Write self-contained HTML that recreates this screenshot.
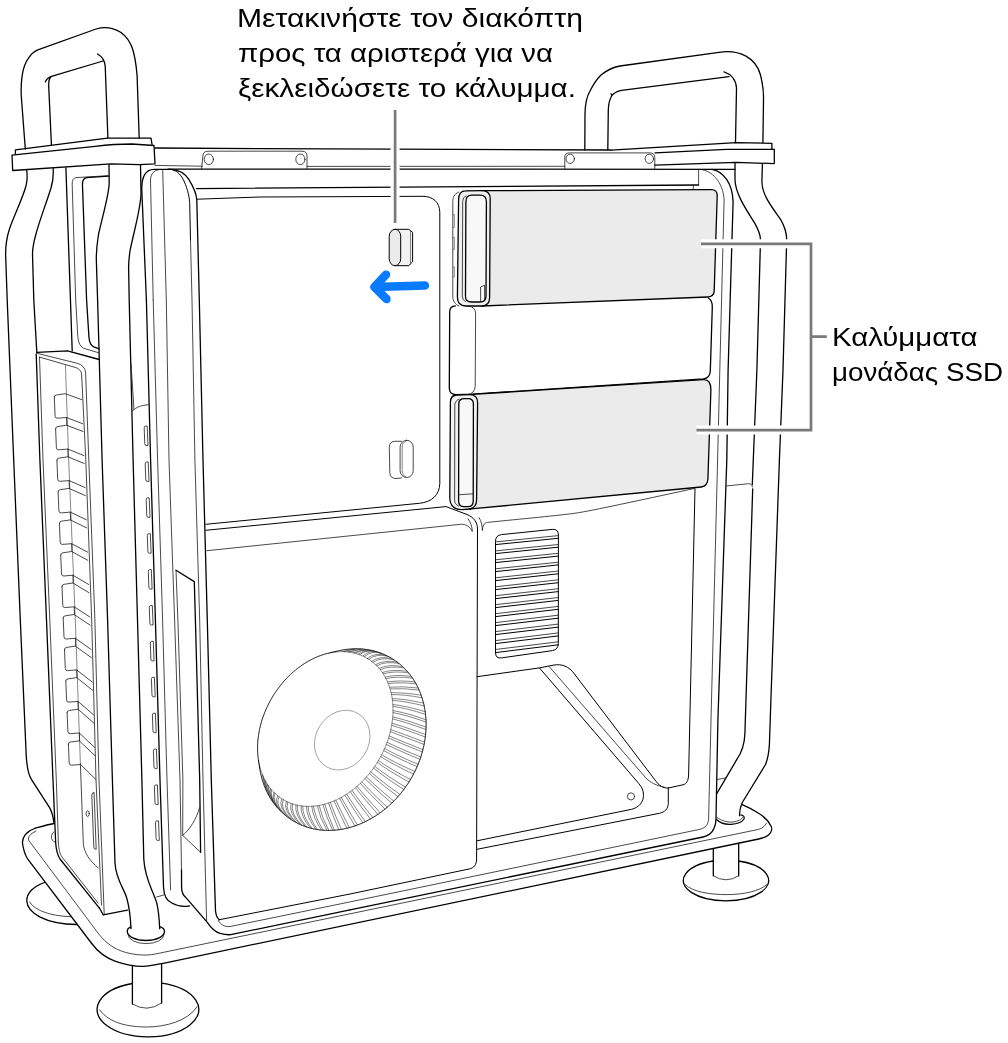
<!DOCTYPE html>
<html><head><meta charset="utf-8"><title>Mac Pro SSD covers</title>
<style>
html,body{margin:0;padding:0;background:#fff;}
body{width:1008px;height:1043px;overflow:hidden;position:relative;font-family:"Liberation Sans",sans-serif;}
svg{position:absolute;left:0;top:0;will-change:transform;}
.k{stroke:#000;stroke-width:1.3;fill:none;stroke-linecap:round;stroke-linejoin:round;}
.m{stroke:#000;stroke-width:1.0;fill:none;stroke-linecap:round;stroke-linejoin:round;}
.n{stroke:#1a1a1a;stroke-width:0.8;fill:none;stroke-linecap:round;stroke-linejoin:round;}
.f{stroke:#222;stroke-width:0.55;fill:none;stroke-linecap:round;}
.g{stroke:#555;stroke-width:0.7;fill:none;stroke-linecap:round;stroke-linejoin:round;}
text{font-family:"Liberation Sans",sans-serif;font-size:26.4px;fill:#000;}
</style></head><body>
<svg width="1008" height="1043" viewBox="0 0 1008 1043">
<path class="k" d="M25.3,149 L21.2,95 C20.8,80 23,66 28,58.9 C31,54 34,51.5 37.8,49.9 L96.1,29 C104,26.5 113,27.5 121.1,32.5 C127,37 130,42 132.2,47.8 C135,56 136.3,66 137.1,75.6 L139.2,138" />
<path class="k" d="M51.4,144.5 L48.7,86 C48.5,81 49.3,78 51.5,76.3 L103,61 M45.4,81.8 C46.5,79 48.5,77.2 51.5,76.3 M97.5,54 C102,56.5 104.8,61 105.2,66 L107.9,137.8" />
<path class="k" d="M15.4,153.8 L15.4,149.8 L107.5,138.2 L151,138.2 L152,144.3" />
<path class="k" d="M12,155.2 L95,146.3 Q115,144 131.7,144 L154,145.5 L155,163.8 L139.7,164.6 L111,163.8 L12.7,170.5 Z" />
<path class="k" d="M26.7,170 C27.5,176 27.5,180 26,186 C22,200 13,218 9.5,229 C6.5,238 5.6,247 5.6,254 L7.2,300 L13.7,460 L20.3,620 L26.2,755 C27,770 29,776 31.7,779.8 L49.6,807.6 C52,812 53.5,818 54,823.5" />
<path class="k" d="M53.2,168.6 C53.5,175 53.3,181 51,188 C46,204 39,222 35.7,235 C33.5,243 32.5,250 32.5,254 L33.8,300 L36.8,352.4" />
<path class="k" d="M65.9,167.8 L72.2,350.8" />
<path class="n" d="M108,175.7 L76,177.6 Q72,178 72.2,184.4 L75.7,300 L77.8,336.5 Q78.5,346 84,348.4 L98.4,352.7" />
<path class="k" d="M108.4,176.2 L86.5,177.6 Q82,178.5 82.5,186 L86.6,300 L88.9,336.5 Q89.5,345 93.7,346.8 L99.2,348.9" />
<path class="k" d="M109,164.6 L109.2,183 C109,195 102,218 98.4,235 C97,244 96.3,252 96.3,259 L97.6,300 L102.1,460 L107.6,620 L112.4,780 L115,863 C116,880 124,888 127,899 C129.5,908 130.5,918 131,928.7" />
<path class="k" d="M140.5,164.6 L141,194 C140.5,210 133,235 130,251 C129,258 128.6,263 128.6,267 L129.2,300 L133.1,460 L137.5,620 L141.9,780 L143.8,859.2 C145,880 153,890 156.7,902.9 C158.5,910 159.3,920 159.7,928.7" />
<path class="k" d="M127.3,931.5 A18.6,9 0 0 0 164.5,931.5 M127.3,931.5 C127.2,929.5 128.5,927.8 131,926.9 M164.5,931.5 C164.5,929.3 163,927.5 159.7,926.6" />
<path class="n" d="M128,934.8 A18,8.8 0 0 0 164,934.8" />
<path class="k" d="M36.8,352.4 L67.5,350.8 L99.2,359.5" />
<path class="k" d="M36.2,354 L39.9,460 L46.5,620 L53,780 L55.7,843 C56.2,851 57.5,855 60,859 L99.2,907.8" />
<path class="n" d="M39.5,357.1 L43,460 L49.8,620 L56.3,780 L58.4,843 C58.8,850 60,854 62,857 L98,903" />
<path class="n" d="M39.5,357.1 L75.2,367.4 Q80.8,369 81.6,374 L85.8,460 L91.7,620 L96,780 L101.5,905" />
<path class="n" d="M37.1,353.3 L77.6,363.4 Q84.8,365.5 85.6,372.5 L88.8,460 L94.9,620 L99,780 L104.2,913.8" />
<path class="g" d="M65.4,364.3 L68.7,460 L75.3,620 L80.4,764" />
<path class="k" d="M103.2,914.8 L127.5,910.2" />
<path class="k" d="M99.2,907.8 L103.2,914.8" />
<path class="n" d="M54.3,397.2 Q54.0,395.2 56.5,395.0 L65.2,393.7 L81.9,399.7 M54.3,397.2 L55.1,416.2 Q55.3,418.5 57.5,418.2 L66.5,417.5 L82.8,423.8 M66.5,417.5 L66.8,425.2" />
<path class="n" d="M55.6,428.8 Q55.3,426.8 57.8,426.6 L66.5,425.2 L83.1,431.5 M55.6,428.8 L56.4,447.8 Q56.6,450.1 58.8,449.8 L67.8,449.1 L84.0,455.6 M67.8,449.1 L68.1,456.8" />
<path class="n" d="M56.9,460.3 Q56.6,458.3 59.1,458.1 L67.8,456.8 L84.3,463.5 M56.9,460.3 L57.7,479.3 Q57.9,481.6 60.1,481.3 L69.1,480.6 L85.2,487.6 M69.1,480.6 L69.4,488.3" />
<path class="n" d="M58.1,491.9 Q57.8,489.9 60.3,489.7 L69.0,488.4 L85.5,495.7 M58.1,491.9 L58.9,510.9 Q59.1,513.1 61.3,512.9 L70.3,512.1 L86.4,519.8 M70.3,512.1 L70.6,519.9" />
<path class="n" d="M59.4,523.4 Q59.1,521.4 61.6,521.2 L70.3,519.9 L86.7,527.9 M59.4,523.4 L60.2,542.4 Q60.4,544.7 62.6,544.4 L71.6,543.7 L87.6,552.1 M71.6,543.7 L71.9,551.4" />
<path class="n" d="M60.7,555.0 Q60.4,553.0 62.9,552.8 L71.6,551.5 L87.8,560.3 M60.7,555.0 L61.5,574.0 Q61.7,576.2 63.9,576.0 L72.9,575.2 L88.7,584.5 M72.9,575.2 L73.2,583.0" />
<path class="n" d="M62.0,586.5 Q61.7,584.5 64.2,584.3 L72.9,583.0 L89.0,592.7 M62.0,586.5 L62.8,605.5 Q63.0,607.8 65.2,607.5 L74.2,606.8 L89.9,617.0 M74.2,606.8 L74.5,614.5" />
<path class="n" d="M63.2,618.0 Q62.9,616.0 65.4,615.8 L74.1,614.5 L90.2,625.2 M63.2,618.0 L64.0,637.0 Q64.2,639.3 66.4,639.0 L75.4,638.3 L91.1,649.5 M75.4,638.3 L75.7,646.0" />
<path class="n" d="M64.5,649.6 Q64.2,647.6 66.7,647.4 L75.4,646.1 L91.4,657.7 M64.5,649.6 L65.3,668.6 Q65.5,670.9 67.7,670.6 L76.7,669.9 L92.3,682.1 M76.7,669.9 L77.0,677.6" />
<path class="n" d="M65.8,681.1 Q65.5,679.1 68.0,678.9 L76.7,677.6 L92.6,690.3 M65.8,681.1 L66.6,700.1 Q66.8,702.4 69.0,702.1 L78.0,701.4 L93.5,714.8 M78.0,701.4 L78.3,709.1" />
<path class="n" d="M67.1,712.7 Q66.8,710.7 69.3,710.5 L78.0,709.2 L93.8,723.0 M67.1,712.7 L67.9,731.7 Q68.1,734.0 70.3,733.7 L79.3,733.0 L94.7,747.5 M79.3,733.0 L79.6,740.7" />
<path class="n" d="M68.4,744.2 Q68.1,742.2 70.6,742.0 L79.3,740.8 L95.0,755.7 M68.4,744.2 L69.2,763.2 Q69.4,765.5 71.6,765.2 L80.6,764.5 L95.9,779.5" />
<path class="n" d="M80.4,764 L83.3,843.3 C84,853 90,861 98.2,868" />
<path class="n" d="M93.9,792.7 Q91.7,792.7 91.8,795 L93.8,847 Q94,849.5 96.2,849.3 L94.2,795 Q94.1,792.7 93.9,792.7 Z" />
<ellipse cx="87.7" cy="813.6" rx="1.6" ry="2.8" class="n"/>
<path class="k" d="M146.4,300 L141.8,190 C141.5,176 146,169.6 154,169.4 L171.4,169.4 C181,170 186,175 189,179.7 C194,188 196.5,195 196.8,200 L199.3,300 L203,460 L207.3,620 L211.3,780 L215.5,910.8 C216,916 217.5,918.5 219.4,919.7" />
<path class="k" d="M146.4,300 L150.6,460 L155.4,620 L160,780 L163.5,887 C164,897 168,901.5 171.8,903 C177,906 184,907 189.7,905.8" />
<path class="n" d="M153.2,300 L150.5,180 Q150.5,171 158.7,169.6 M153.2,300 L157.6,460 L162.6,620 L167,780 L170.6,890" />
<path class="n" d="M162.7,170 L166.3,300 L169,460 L174.6,620 L180,780 L181.5,870" />
<path class="m" d="M173,170 C178,171 181.5,176 184,181 C188,190 189.5,198 189.7,203.5 L190.5,240" />
<path class="n" d="M190.5,240 L192,300 L194.9,460 L199.7,620 L203,780 L206.6,920.9" />
<path class="k" d="M181.5,870 L181.6,887.9 C181.8,893 183,895.5 186,897.7 L207.5,922.7 C211,928 215,932 220,933.4 C224,934.5 227,935 230.7,934.7 L350,909.8" />
<path class="k" d="M176,570.2 L194.3,581.6 L195.4,620 L199.7,780 L200.6,852.3" />
<path class="n" d="M176,570.2 L177.9,620 L182.9,780 L182.7,835.4" />
<path class="n" d="M199.6,807.6 C196,820 190,829 182.7,835.4 L200.6,852.3" />
<path class="n" d="M144.2,427.5 Q144.2,426.0 145.7,426.0 L147.2,426.0 L148.0,445.5 L146.0,445.5 Q144.9,445.5 144.8,444.0 Z" />
<path class="n" d="M145.2,463.4 Q145.2,461.9 146.7,461.9 L148.2,461.9 L149.0,481.4 L147.0,481.4 Q145.9,481.4 145.8,479.9 Z" />
<path class="n" d="M146.2,499.3 Q146.2,497.8 147.7,497.8 L149.2,497.8 L150.0,517.3 L148.0,517.3 Q146.9,517.3 146.8,515.8 Z" />
<path class="n" d="M147.3,535.2 Q147.3,533.7 148.8,533.7 L150.3,533.7 L151.1,553.2 L149.1,553.2 Q148.0,553.2 147.9,551.7 Z" />
<path class="n" d="M148.3,571.1 Q148.3,569.6 149.8,569.6 L151.3,569.6 L152.1,589.1 L150.1,589.1 Q149.0,589.1 148.9,587.6 Z" />
<path class="n" d="M149.3,607.0 Q149.3,605.5 150.8,605.5 L152.3,605.5 L153.1,625.0 L151.1,625.0 Q150.0,625.0 149.9,623.5 Z" />
<path class="n" d="M150.3,642.9 Q150.3,641.4 151.8,641.4 L153.3,641.4 L154.1,660.9 L152.1,660.9 Q151.0,660.9 150.9,659.4 Z" />
<path class="n" d="M151.4,678.8 Q151.4,677.3 152.9,677.3 L154.4,677.3 L155.2,696.8 L153.2,696.8 Q152.1,696.8 152.0,695.3 Z" />
<path class="n" d="M152.4,714.7 Q152.4,713.2 153.9,713.2 L155.4,713.2 L156.2,732.7 L154.2,732.7 Q153.1,732.7 153.0,731.2 Z" />
<path class="n" d="M153.4,750.6 Q153.4,749.1 154.9,749.1 L156.4,749.1 L157.2,768.6 L155.2,768.6 Q154.1,768.6 154.0,767.1 Z" />
<path class="n" d="M154.4,786.5 Q154.4,785.0 155.9,785.0 L157.4,785.0 L158.2,804.5 L156.2,804.5 Q155.1,804.5 155.0,803.0 Z" />
<path class="n" d="M155.5,822.4 Q155.5,820.9 157.0,820.9 L158.5,820.9 L159.3,840.4 L157.3,840.4 Q156.2,840.4 156.1,838.9 Z" />
<path class="n" d="M131,363.5 L134,409.5 M132.5,411 C136,407 142,405 148.4,404.8" />
<path class="k" d="M44.6,882.5 C34,886 26.5,893 26.8,901 C27.5,913 45,924 77,924.5" />
<path class="n" d="M29.8,901.9 C33,909 48,916 71,916.7" />
<path class="k" d="M54,823.5 C46,825 40,827 34.7,828.5 C27,831 21.5,837 22.6,844 C23.5,850 25,855 27.8,859.2 L91.7,943.5 C98,952 106,958 115.6,961.3 C125,964.5 135,966.5 143.3,966.3 C150,966.2 157,964.5 163.2,963.3 L758.6,839 C763,838 767,836.5 768.5,835 C772,832 772.5,828 770.5,825.2 C768,820 763,816 758.6,813.3 C753,809.5 747,806.5 741.7,804.3" />
<path class="n" d="M36,831 C30,834 27.5,837 28.8,840.5 L99.2,934.6 C106,943 114,949 125.5,952.4 C133,954.5 141,955.3 147.3,955 C153,954.7 158,953.5 163.2,952.4 L758.6,829.4 C762,828.5 765,826 766.5,823.2" />
<path class="n" d="M156.7,897 L163.7,895" />
<path class="n" d="M53.8,832 C50.3,833.5 50.5,841 54.6,842" />
<path class="k" d="M132.4,966 L132.4,1004 M161.6,963.6 L161.6,1003" />
<path class="n" d="M132.4,1004 Q147,1013 161.6,1003" />
<path class="k" d="M161.6,983.2 A50.9,27.3 0 1 1 132.4,983.5" />
<path class="n" d="M99.7,1010 C110,1024 130,1027 147.3,1027 C165,1027 188,1021 196.9,1007" />
<path class="k" d="M713.3,849 L713.3,875.8 M738.7,844 L738.7,875.8" />
<path class="n" d="M713.3,875.8 Q726,884 738.7,875.8" />
<path class="k" d="M738.7,861 A42.7,20.4 0 1 1 713.3,861" />
<path class="n" d="M685.2,884.7 C693,892 710,894.6 726.8,894.6 C744,894.6 760,891 766.5,884.7" />
<path class="k" d="M716.5,819.5 C720,823 726,824.6 731,824.3 C737,824 742,822 744,819 C744.8,817 743.5,815.5 741,814.8" />
<path class="n" d="M716.8,817.3 C722,821.3 728,822.4 733,822 C738,821.3 741.5,819.5 742.5,817.5" />
<path class="k" d="M155,148 L260,148.7 L395,149.2 L611,150" />
<path class="n" d="M155,165.4 L202.4,166.2 M307,166.4 L564.8,166.3" />
<path class="k" d="M168,169.1 L735,169.3" />
<path class="n" d="M201.6,168.9 L202.9,156 Q203,151.3 208,151.2 L302,151.2 Q307,151.3 307,156 L307,168.9" />
<ellipse cx="208.8" cy="159.3" rx="4.6" ry="5.3" class="n"/><ellipse cx="300.4" cy="159.3" rx="4.6" ry="5.3" class="n"/>
<path class="n" d="M564.8,168.8 L564.8,157 Q565,152.9 569.5,152.9 L650,152.9 Q654.8,153 654.8,157.5 L654.8,168.8" />
<ellipse cx="570.2" cy="158.8" rx="4.2" ry="4.6" class="n"/><ellipse cx="649.3" cy="158.8" rx="4.2" ry="4.6" class="n"/>
<path class="k" d="M196.5,188.6 L698.6,185" />
<path class="n" d="M698.6,169.3 L698.6,184.9 M693.3,185 L693.3,189.6" />
<path class="k" d="M584.8,149.8 L585,115 C585,103 587,96 590,91 C594,83 598,78 601,75 C607,70 613,67.3 620,66 L719,52.3 C740,49.3 756,58 760.5,75 C763,85 763.7,95 763.5,100 L762.9,142.6" />
<path class="k" d="M607.8,149.8 L608.3,110 C608.6,103 610,98.5 611.9,95.5 C614,93 617,91.3 621.5,90.4 L729,76.6 M611,93.8 L611.9,95.5 M724,71.8 C731,74 736,80 736.5,88 L735.5,142.6" />
<path class="k" d="M611.2,150.2 L736.2,142.6 L771.9,143.3 L771.9,148.8" />
<path class="k" d="M655,152.8 L726.7,149.3 L774.3,149.3 L774.3,163.6 L736.2,162.4 L654.8,165.2" />
<path class="k" d="M735,163 L735,180 C735.5,195 748,212 755,223.6 C758.5,230 760.5,236 760.5,240 L756.9,370 L752.3,484.5 M752.7,488.8 L744.9,733.4 C744.5,745 742,752 736.7,759.7 L716.9,793.4" />
<path class="k" d="M762.4,164 L761.9,182 C762,195 772,207 780.7,219.6 C785,227 786.7,234 786.7,240 L783,370 L779.4,460 L770.9,700 L769.4,744.6 C769,752 768,758.5 765.5,764.5 L742.3,802.5 C740.5,806.5 739.3,811 739.6,815.6" />
<path class="n" d="M726.8,485.9 L748.5,483.7 Q751.8,483.5 752.5,487" />
<path class="n" d="M717,779.5 L725.8,778" />
<path class="n" d="M700.5,169.4 C712,170.5 723,182 724.1,199.8 L719.8,370 L717.6,460 L711,720 L708.6,819.2 C708,826 704,828.5 699,829.5 L350,901.9 L230.7,926.4 C226,927.3 221,925.5 218.2,920.4" />
<path class="k" d="M712,169.3 C724,171.5 732.5,184 733.1,201.7 L728.1,370 L726.8,460 L717.9,720 L716,819 C715.5,830 710,835.5 703,837 L350,909.8" />
<path class="m" d="M197,199.2 L260,197 L423,196.3 C433,196.5 439.6,202 439.8,212.3 L439.8,483.5 C439.5,495 432,502 419.4,503.3 L205.8,524.3" />
<path class="m" d="M205.8,530.3 L446,506.6 L467,514.5 C474,517.5 477.3,522 477.5,529 L476.6,859 C476.5,865 474,868 469,869 L350,894 L219.4,919.7" />
<path class="n" d="M206.8,550.7 L460.7,524.3 C466,524 470,526.5 472.3,531.5 C472,526 470.5,522 467.9,518.7" />
<path class="n" d="M479.2,517.8 C481.5,521.5 482.3,526 482.4,530.6 C482.6,526 484,523 487.5,522.4 C520,519 560,515.5 578.7,512.7 C600,509 650,498 694.4,488.5" />
<path class="m" d="M695,489 L688.6,775 C688.3,781 686.5,784 683,784.8 L668.3,788" />
<path class="m" d="M477,676.7 L540,667.8 L553,665.2 C562,663.5 569,666.5 574.3,673.8 L655,780 C659,785.5 663,788.5 668.3,788" />
<path class="m" d="M539.8,668.3 L638.6,783.3 C642,787.5 643.5,790 643.5,795.4 C643.5,802 639,807.5 631.6,809.3 L477,840.8" />
<path class="n" d="M549.3,666.7 L645.5,777.5 C650,782.5 656,785.5 665.3,787.5" />
<path class="m" d="M668.3,788 L668.3,803.3 C668,809 665,812 659.4,813.3 L477,849.3" />
<circle cx="631" cy="796.4" r="3.6" class="n"/>
<path class="m" d="M495.5,541 Q495.5,535.3 501.5,534.6 L552.2,529.4 Q558.4,528.8 558.4,535 L558.3,643.5 Q558.3,649.5 552.5,650.6 L501.5,657.9 Q495.5,658.8 495.5,652.8 Z" />
<path class="n" d="M495.5,541.9 L558.3,535.6" />
<path class="m" d="M495.5,544.6 L558.3,538.3" />
<path class="n" d="M495.5,550.9 L558.3,544.5" />
<path class="m" d="M495.5,553.6 L558.3,547.2" />
<path class="n" d="M495.5,559.8 L558.3,553.3" />
<path class="m" d="M495.5,562.6 L558.3,556.1" />
<path class="n" d="M495.5,568.8 L558.3,562.2" />
<path class="m" d="M495.5,571.6 L558.3,564.9" />
<path class="n" d="M495.5,577.8 L558.3,571.0" />
<path class="m" d="M495.5,580.6 L558.3,573.8" />
<path class="n" d="M495.5,586.8 L558.3,579.8" />
<path class="m" d="M495.5,589.6 L558.3,582.7" />
<path class="n" d="M495.5,595.7 L558.3,588.7" />
<path class="m" d="M495.5,598.6 L558.3,591.6" />
<path class="n" d="M495.5,604.7 L558.3,597.5" />
<path class="m" d="M495.5,607.6 L558.3,600.4" />
<path class="n" d="M495.5,613.7 L558.3,606.4" />
<path class="m" d="M495.5,616.6 L558.3,609.3" />
<path class="n" d="M495.5,622.6 L558.3,615.2" />
<path class="m" d="M495.5,625.6 L558.3,618.2" />
<path class="n" d="M495.5,631.6 L558.3,624.1" />
<path class="m" d="M495.5,634.6 L558.3,627.1" />
<path class="n" d="M495.5,640.6 L558.3,632.9" />
<path class="m" d="M495.5,643.6 L558.3,635.9" />
<path class="n" d="M495.5,649.5 L558.3,641.8" />
<path class="m" d="M495.5,652.6 L558.3,644.8" />
<path d="M465.5,190.8 L711,189.6 Q717.4,189.5 717.2,196 L714.2,291 Q714,296.6 707.5,297 L482,306 L465.7,306 Q457.4,306 457.4,297 L458.6,199.8 Q458.6,190.8 465.5,190.8 Z" fill="#ebebeb" stroke="none"/>
<path class="k" d="M482,190.7 L711,189.6 Q717.4,189.5 717.2,196 L714.2,291 Q714,296.6 707.5,297 L482,306" />
<path d="M482,190.7 Q490.3,190.7 490.2,199 L489.6,298 Q489.4,305.7 482,306 L465.7,306 Q457.4,306 457.4,297 L458.6,199.8 Q458.6,190.8 465.5,190.8 Z" fill="#f1f1f1" stroke="none"/>
<path class="k" d="M482,190.7 Q490.3,190.7 490.2,199 L489.6,298 Q489.4,305.7 482,306" />
<path class="k" d="M465.5,190.8 L482,190.7 M482,306 L465.7,306 Q457.4,306 457.4,297 L458.6,199.8 Q458.6,190.8 465.5,190.8" />
<path class="k" d="M471.7,195.2 L480.2,195.2 Q486.4,195.2 486.4,201.5 L486,296 Q486,302 480,302 L471.5,302 Q465.4,302 465.5,296 L465.9,201.5 Q466,195.2 471.7,195.2 Z" style="fill:#f8f8f8"/>
<path class="n" d="M466,195.8 Q462.6,197 462.7,201.5 L462.3,296 Q462.3,300.5 465.5,301.5" />
<path class="n" d="M458.8,192 C454,194 452.8,198 452.8,201.7 L452.8,297 C453,301 455,304.5 459,306" />
<path class="g" d="M452.8,214.6 L454.3,214.6 L454.3,227.5 L452.8,227.5 M452.8,237.5 L454.3,237.5 L454.3,249.4 L452.8,249.4 M452.8,267 L454.3,267 L454.3,277 L452.8,277" />
<path class="n" d="M480.6,301.5 L480.6,287 L484.6,285.2 L484.6,299" />
<path class="k" d="M455.5,305.8 Q449.6,306 449.7,312 L449.3,388 Q449.4,394.6 456,394.6 L472.7,394.2 L703.3,378.9 Q710,378.3 710.3,371 L712.3,307 Q712.3,300 708.3,298" />
<path class="n" d="M468,306 Q475.8,306.5 475.6,314 L475.2,386 Q475,393.5 468,394.4" />
<path d="M457,395 L472.7,394.4 L703.5,379.6 Q711,379.3 710.9,389.8 L707.9,479.1 Q707.5,486.3 701.3,487 L473.6,508.7 L462,509.7 Q449.8,509.5 449.8,497.8 L450.4,402 Q450.5,395.3 457,395 Z" fill="#ebebeb" stroke="none"/>
<path class="k" d="M470,394.6 L472.7,394.4 L703.5,379.6 Q711,379.3 710.9,389.8 L707.9,479.1 Q707.5,486.3 701.3,487 L473.6,508.7 L470,509" />
<path d="M470,394.6 Q477.8,395 477.6,403 L476.6,500 Q476.4,507.5 470,509 L462,509.7 Q449.8,509.5 449.8,497.8 L450.4,402 Q450.5,395.3 457,395 Z" fill="#f1f1f1" stroke="none"/>
<path class="k" d="M470,394.6 Q477.8,395 477.6,403 L476.6,500 Q476.4,507.5 470,509" />
<path class="k" d="M457,395 L470,394.6 M470,509 L462,509.7 Q449.8,509.5 449.8,497.8 L450.4,402 Q450.5,395.3 457,395" />
<path class="k" d="M464.5,398.7 L468,398.7 Q473.4,398.7 473.4,404 L473.2,501 Q473.2,506.7 468,506.7 L464,506.7 Q458.6,506.7 458.6,501 L458.8,404 Q458.8,398.7 464.5,398.7 Z" style="fill:#f8f8f8"/>
<path class="n" d="M459.2,399.3 Q454.8,400.5 454.8,405 L454.6,500 Q454.7,504.5 458.5,506" />
<path class="n" d="M459,494.8 L473.2,493.8" />
<path class="m" d="M395,229.3 L408.7,229.3 L412.6,232.3 L412.6,261.8 L408.7,265.7 L395,265.7" style="fill:#f2f2f2"/>
<path class="g" d="M410.5,230.8 L410.5,264.2" />
<rect x="389.2" y="229.3" width="11.5" height="36.4" rx="5.75" ry="7" class="m" style="fill:#ebebeb"/>
<path class="n" d="M401.5,441.3 L395,441.3 Q389.3,441.5 389.3,447.5 L389.8,472.5 Q390,478.5 396,478.5 L401.5,478" />
<rect x="400.1" y="440.3" width="13.1" height="37.2" rx="6.5" ry="6.8" class="n"/>
<path class="g" d="M406,441 Q402.2,442.5 402.2,447 L402.2,471 Q402.3,475.5 406,477" />
<path d="M424.9,285.6 L375,286.9 M386,274.7 L374.5,286.9 L386.5,299.1" stroke="#0a7aff" stroke-width="8.5" fill="none" stroke-linecap="round" stroke-linejoin="round"/>
<path class="m" d="M257.6,748.2 L257.6,747.5 L257.6,746.9 L257.6,746.2 L257.6,745.6 L257.6,744.9 L257.6,744.2 L257.7,743.6 L257.7,742.9 L257.8,742.2 L257.8,741.6 L257.9,740.9 L257.9,740.2 L258.0,739.6 L258.0,738.9 L258.1,738.2 L258.2,737.6 L258.3,736.9 L258.4,736.2 L258.5,735.6 L258.6,734.9 L258.7,734.2 L258.8,733.5 L258.9,732.9 L259.0,732.2 L259.1,731.5 L259.3,730.8 L259.4,730.2 L259.5,729.5 L259.7,728.8 L259.8,728.1 L260.0,727.5 L260.1,726.8 L260.3,726.1 L260.5,725.4 L260.7,724.8 L260.8,724.1 L261.0,723.4 L261.2,722.7 L261.4,722.1 L261.6,721.4 L261.8,720.7 L262.0,720.1 L262.2,719.4 L262.4,718.7 L262.7,718.0 L262.9,717.4 L263.1,716.7 L263.4,716.0 L263.6,715.4 L263.9,714.7 L264.1,714.0 L264.4,713.4 L264.6,712.7 L264.9,712.1 L265.2,711.4 L265.4,710.8 L265.7,710.1 L266.0,709.4 L266.3,708.8 L266.6,708.1 L266.9,707.5 L267.2,706.8 L267.5,706.2 L267.8,705.6 L268.1,704.9 L268.4,704.3 L268.7,703.6 L269.1,703.0 L269.4,702.4 L269.7,701.7 L270.1,701.1 L270.4,700.5 L270.8,699.8 L271.1,699.2 L271.5,698.6 L271.9,698.0 L272.2,697.4 L272.6,696.7 L273.0,696.1 L273.3,695.5 L273.7,694.9 L274.1,694.3 L274.5,693.7 L274.9,693.1 L275.3,692.5 L275.7,691.9 L276.1,691.3 L276.5,690.7 L276.9,690.1 L277.3,689.6 L277.7,689.0 L278.2,688.4 L278.6,687.8 L279.0,687.3 L279.5,686.7 L279.9,686.1 L280.3,685.6 L280.8,685.0 L281.2,684.5 L281.7,683.9 L282.1,683.4 L282.6,682.8 L283.0,682.3 L283.5,681.7 L284.0,681.2 L284.4,680.7 L284.9,680.2 L285.4,679.6 L285.9,679.1 L286.4,678.6 L286.8,678.1 L287.3,677.6 L287.8,677.1 L288.3,676.6 L288.8,676.1 L289.3,675.6 L289.8,675.1 L290.3,674.6 L290.8,674.2 L291.3,673.7 L291.8,673.2 L292.4,672.7 L292.9,672.3 L293.4,671.8 L293.9,671.4 L294.5,670.9 L295.0,670.5 L295.5,670.0 L296.0,669.6 L296.6,669.2 L297.1,668.8 L297.6,668.3 L298.2,667.9 L298.7,667.5 L299.3,667.1 L299.8,666.7 L300.4,666.3 L300.9,665.9 L301.5,665.5 L302.0,665.1 L302.6,664.7 L303.1,664.4 L303.7,664.0 L304.3,663.6 L304.8,663.3 L305.4,662.9 L306.0,662.6 L306.5,662.2 L307.1,661.9 L307.7,661.6 L308.2,661.2 L308.8,660.9 L309.4,660.6 L310.0,660.3 L310.5,660.0 L311.1,659.7 L311.7,659.4 L312.3,659.1 L312.9,658.8 L313.4,658.5 L314.0,658.2 L314.6,658.0 L315.2,657.7 L315.8,657.4 L316.4,657.2 L316.9,656.9 L317.5,656.7 L318.1,656.5 L318.7,656.2 L319.3,656.0 L319.9,655.8 L320.5,655.6 L321.1,655.4 L321.6,655.2 L322.2,655.0 L322.8,654.8 L323.4,654.6 L324.0,654.4 L324.6,654.2 L325.2,654.0 L325.8,653.9 L326.4,653.7 L327.0,653.6 L327.6,653.4 L328.1,653.3 L337.6,651.0 L338.4,650.9 L339.1,650.7 L339.8,650.5 L340.6,650.4 L341.3,650.2 L342.0,650.1 L342.8,650.0 L343.5,649.8 L344.2,649.7 L344.9,649.6 L345.7,649.5 L346.4,649.4 L347.1,649.3 L347.9,649.2 L348.6,649.2 L349.3,649.1 L350.0,649.0 L350.8,649.0 L351.5,648.9 L352.2,648.9 L353.0,648.9 L353.7,648.8 L354.4,648.8 L355.1,648.8 L355.8,648.8 L356.6,648.8 L357.3,648.8 L358.0,648.8 L358.7,648.8 L359.4,648.9 L360.1,648.9 L360.9,648.9 L361.6,649.0 L362.3,649.0 L363.0,649.1 L363.7,649.2 L364.4,649.2 L365.1,649.3 L365.8,649.4 L366.5,649.5 L367.2,649.6 L367.9,649.7 L368.6,649.8 L369.3,650.0 L370.0,650.1 L370.7,650.2 L371.4,650.4 L372.0,650.5 L372.7,650.7 L373.4,650.9 L374.1,651.0 L374.8,651.2 L375.4,651.4 L376.1,651.6 L376.8,651.8 L377.4,652.0 L378.1,652.2 L378.7,652.4 L379.4,652.6 L380.1,652.9 L380.7,653.1 L381.4,653.4 L382.0,653.6 L382.6,653.9 L383.3,654.1 L383.9,654.4 L384.5,654.7 L385.2,655.0 L385.8,655.2 L386.4,655.5 L387.0,655.8 L387.7,656.2 L388.3,656.5 L388.9,656.8 L389.5,657.1 L390.1,657.5 L390.7,657.8 L391.3,658.1 L391.9,658.5 L392.5,658.9 L393.0,659.2 L393.6,659.6 L394.2,660.0 L394.8,660.4 L395.3,660.8 L395.9,661.1 L396.5,661.5 L397.0,662.0 L397.6,662.4 L398.1,662.8 L398.7,663.2 L399.2,663.6 L399.7,664.1 L400.3,664.5 L400.8,665.0 L401.3,665.4 L401.8,665.9 L402.3,666.4 L402.8,666.8 L403.3,667.3 L403.8,667.8 L404.3,668.3 L404.8,668.8 L405.3,669.3 L405.8,669.8 L406.3,670.3 L406.7,670.8 L407.2,671.3 L407.7,671.8 L408.1,672.4 L408.6,672.9 L409.0,673.4 L409.4,674.0 L409.9,674.5 L410.3,675.1 L410.7,675.7 L411.2,676.2 L411.6,676.8 L412.0,677.4 L412.4,677.9 L412.8,678.5 L413.2,679.1 L413.6,679.7 L413.9,680.3 L414.3,680.9 L414.7,681.5 L415.0,682.1 L415.4,682.8 L415.8,683.4 L416.1,684.0 L416.5,684.6 L416.8,685.3 L417.1,685.9 L417.4,686.5 L417.8,687.2 L418.1,687.8 L418.4,688.5 L418.7,689.1 L419.0,689.8 L419.3,690.5 L419.6,691.1 L419.8,691.8 L420.1,692.5 L420.4,693.2 L420.7,693.8 L420.9,694.5 L421.2,695.2 L421.4,695.9 L421.6,696.6 L421.9,697.3 L422.1,698.0 L422.3,698.7 L422.5,699.4 L422.7,700.1 L422.9,700.9 L423.1,701.6 L423.3,702.3 L423.5,703.0 L423.7,703.7 L423.9,704.5 L424.0,705.2 L424.2,705.9 L424.3,706.7 L424.5,707.4 L424.6,708.2 L424.7,708.9 L424.9,709.7 L425.0,710.4 L425.1,711.2 L425.2,711.9 L425.3,712.7 L425.4,713.4 L425.5,714.2 L425.6,714.9 L425.7,715.7 L425.7,716.5 L425.8,717.2 L425.9,718.0 L425.9,718.8 L425.9,719.6 L426.0,720.3 L426.0,721.1 L426.0,721.9 L426.1,722.7 L426.1,723.4 L426.1,724.2 L426.1,725.0 L426.1,725.8 L426.1,726.6 L426.0,727.3 L426.0,728.1 L426.0,728.9 L425.9,729.7 L425.9,730.5 L425.9,731.3 L425.8,732.1 L425.7,732.9 L425.7,733.7 L425.6,734.4 L425.5,735.2 L425.4,736.0 L425.3,736.8 L425.2,737.6 L425.1,738.4 L425.0,739.2 L424.9,740.0 L424.7,740.8 L424.6,741.6 L424.5,742.4 L424.3,743.2 L424.2,744.0 L424.0,744.7 L423.9,745.5 L423.7,746.3 L423.5,747.1 L423.3,747.9 L423.1,748.7 L422.9,749.5 L422.7,750.3 L422.5,751.1 L422.3,751.8 L422.1,752.6 L421.9,753.4 L421.6,754.2 L421.4,755.0 L421.2,755.8 L420.9,756.5 L420.7,757.3 L420.4,758.1 L420.1,758.9 L419.9,759.6 L419.6,760.4 L419.3,761.2 L419.0,761.9 L418.7,762.7 L418.4,763.5 L418.1,764.2 L417.8,765.0 L417.5,765.8 L417.1,766.5 L416.8,767.3 L416.5,768.0 L416.1,768.8 L415.8,769.5 L415.4,770.3 L415.1,771.0 L414.7,771.8 L414.3,772.5 L413.9,773.2 L413.6,774.0 L413.2,774.7 L412.8,775.4 L412.4,776.2 L412.0,776.9 L411.6,777.6 L411.2,778.3 L410.7,779.0 L410.3,779.8 L409.9,780.5 L409.5,781.2 L409.0,781.9 L408.6,782.6 L408.1,783.3 L407.7,784.0 L407.2,784.7 L406.7,785.3 L406.3,786.0 L405.8,786.7 L405.3,787.4 L404.8,788.1 L404.3,788.7 L403.9,789.4 L403.4,790.0 L402.9,790.7 L402.3,791.4 L401.8,792.0 L401.3,792.7 L400.8,793.3 L400.3,793.9 L399.7,794.6 L399.2,795.2 L398.7,795.8 L398.1,796.4 L397.6,797.1 L397.0,797.7 L396.5,798.3 L395.9,798.9 L395.4,799.5 L394.8,800.1 L394.2,800.7 L393.6,801.2 L393.1,801.8 L392.5,802.4 L391.9,803.0 L391.3,803.5 L390.7,804.1 L390.1,804.6 L389.5,805.2 L388.9,805.7 L388.3,806.3 L387.7,806.8 L387.1,807.3 L386.4,807.9 L385.8,808.4 L385.2,808.9 L384.6,809.4 L383.9,809.9 L383.3,810.4 L382.7,810.9 L382.0,811.4 L381.4,811.9 L380.7,812.4 L380.1,812.8 L379.4,813.3 L378.8,813.8 L378.1,814.2 L377.4,814.7 L376.8,815.1 L376.1,815.5 L375.4,816.0 L374.8,816.4 L374.1,816.8 L373.4,817.2 L372.7,817.6 L372.1,818.0 L371.4,818.4 L370.7,818.8 L370.0,819.2 L369.3,819.6 L368.6,820.0 L367.9,820.3 L367.2,820.7 L366.5,821.0 L365.8,821.4 L365.1,821.7 L364.4,822.1 L363.7,822.4 L363.0,822.7 L362.3,823.0 L361.6,823.3 L360.9,823.7 L360.2,823.9 L359.5,824.2 L358.7,824.5 L358.0,824.8 L357.3,825.1 L356.6,825.3 L355.9,825.6 L355.1,825.8 L354.4,826.1 L353.7,826.3 L353.0,826.6 L352.2,826.8 L351.5,827.0 L350.8,827.2 L350.1,827.4 L349.3,827.6 L348.6,827.8 L347.9,828.0 L347.2,828.2 L346.4,828.3 L345.7,828.5 L345.0,828.7 L344.2,828.8 L343.5,829.0 L342.8,829.1 L342.0,829.2 L341.3,829.4 L340.6,829.5 L339.9,829.6 L339.1,829.7 L338.4,829.8 L337.7,829.9 L336.9,830.0 L336.2,830.0 L335.5,830.1 L334.8,830.2 L334.0,830.2 L333.3,830.3 L332.6,830.3 L331.8,830.3 L331.1,830.4 L330.4,830.4 L329.7,830.4 L329.0,830.4 L328.2,830.4 L327.5,830.4 L326.8,830.4 L326.1,830.4 L325.4,830.3 L324.7,830.3 L323.9,830.3 L323.2,830.2 L322.5,830.2 L321.8,830.1 L321.1,830.0 L320.4,830.0 L319.7,829.9 L319.0,829.8 L318.3,829.7 L317.6,829.6 L316.9,829.5 L316.2,829.4 L315.5,829.2 L314.8,829.1 L314.1,829.0 L313.4,828.8 L312.8,828.7 L312.1,828.5 L311.4,828.3 L310.7,828.2 L310.0,828.0 L309.4,827.8 L308.7,827.6 L308.0,827.4 L307.4,827.2 L306.7,827.0 L306.1,826.8 L305.4,826.6 L304.7,826.3 L304.1,826.1 L303.4,825.8 L302.8,825.6 L302.2,825.3 L301.5,825.1 L300.9,824.8 L300.3,824.5 L299.6,824.2 L299.0,824.0 L298.4,823.7 L297.8,823.4 L297.1,823.0 L296.5,822.7 L295.9,822.4 L295.3,822.1 L294.7,821.7 L294.1,821.4 L293.5,821.1 L292.9,820.7 L292.3,820.3 L291.8,820.0 L291.2,819.6 L290.6,819.2 L290.0,818.8 L289.5,818.4 L288.9,818.1 L288.3,817.7 L287.8,817.2 L287.2,816.8 L286.7,816.4 L286.1,816.0 L285.6,815.6 L285.1,815.1 L284.5,814.7 L284.0,814.2 L283.5,813.8 L283.0,813.3 L282.5,812.8 L282.0,812.4 L281.5,811.9 L281.0,811.4 L280.5,810.9 L280.0,810.4 L279.5,809.9 L279.0,809.4 L278.5,808.9 L278.1,808.4 L277.6,807.9 L277.1,807.4 L276.7,806.8 L276.2,806.3 L275.8,805.8 L275.4,805.2 L274.9,804.7 L274.5,804.1 L274.1,803.5 L273.6,803.0 L273.2,802.4 L272.8,801.8 L272.4,801.3 L272.0,800.7 L271.6,800.1 L271.2,799.5 L270.9,798.9 L270.5,798.3 L270.1,797.7 L269.8,797.1 L269.4,796.4 L269.0,795.8 L268.7,795.2 L268.3,794.6 L268.0,793.9 L267.7,793.3 L267.4,792.7 L267.0,792.0 L266.7,791.4 L266.4,790.7 L266.1,790.1 L265.8,789.4 L265.5,788.7 L265.2,788.1 L265.0,787.4 L264.7,786.7 L264.4,786.0 L264.1,785.4 L263.9,784.7 L263.6,784.0 L263.4,783.3 L263.2,782.6 L262.9,781.9 L262.7,781.2 L262.5,780.5 L262.3,779.8 L262.1,779.1 L261.9,778.3 L261.7,777.6 L261.5,776.9 L261.3,776.2 L261.1,775.5 L260.9,774.7 L260.8,774.0 L260.6,773.3 L260.5,772.5 L260.3,771.8 L260.2,771.0 L260.1,770.3 L259.9,769.5 L259.8,768.8 L258.4,759.7 L258.3,759.1 L258.2,758.4 L258.1,757.8 L258.1,757.2 L258.0,756.6 L257.9,755.9 L257.9,755.3 L257.8,754.6 L257.8,754.0 L257.7,753.4 L257.7,752.7 L257.7,752.1 L257.6,751.4 L257.6,750.8 L257.6,750.1 L257.6,749.5 L257.6,748.8 Z" />
<path class="f" d="M367.4,658.4 L367.9,658.7 L368.3,659.0 L368.8,659.2 L369.2,659.5 L369.7,659.8 L370.1,660.1 L370.6,660.5 L371.0,660.8 L371.4,661.1 L371.9,661.4 L372.3,661.8 L372.7,662.1 L373.1,662.4 L373.5,662.8 L374.0,663.1 L374.4,663.5 L374.8,663.8 L375.2,664.2 L375.6,664.6 L376.0,665.0 L376.4,665.3 L376.7,665.7 L377.1,666.1 L377.5,666.5 L377.9,666.9 L378.3,667.3 L378.6,667.7 L379.0,668.1 L379.3,668.6 L379.7,669.0 L380.0,669.4 L380.4,669.9 L380.7,670.3 L381.1,670.7 L381.4,671.2 L381.7,671.6 L382.1,672.1 L382.4,672.5 L382.7,673.0 L383.0,673.5 L383.3,673.9 L383.6,674.4 L383.9,674.9 L384.2,675.4 L384.5,675.9 L384.8,676.4 L385.1,676.9 L385.3,677.4 L385.6,677.9 L385.9,678.4 L386.1,678.9 L386.4,679.4 L386.7,679.9 L386.9,680.5 L387.1,681.0 L387.4,681.5 L387.6,682.0 L387.8,682.6 L388.1,683.1 L388.3,683.7 L388.5,684.2 L388.7,684.8 L388.9,685.3 L389.1,685.9 L389.3,686.5 L389.5,687.0 L389.7,687.6 L389.9,688.2 L390.1,688.7 L390.2,689.3 L390.4,689.9 L390.6,690.5 L390.7,691.1 L390.9,691.7 L391.0,692.2 L391.1,692.8 L391.3,693.4 L391.4,694.0 L391.5,694.6 L391.7,695.3 L391.8,695.9 L391.9,696.5 L392.0,697.1 L392.1,697.7 L392.2,698.3 L392.3,698.9 L392.4,699.6 L392.5,700.2 L392.5,700.8 L392.6,701.4 L392.7,702.1 L392.7,702.7 L392.8,703.4 L392.8,704.0 L392.9,704.6 L392.9,705.3 L392.9,705.9 L393.0,706.6 L393.0,707.2 L393.0,707.9 L393.0,708.5 L393.0,709.2 L393.0,709.8 L393.0,710.5 L393.0,711.1 L393.0,711.8 L393.0,712.4 L393.0,713.1 L393.0,713.8 L392.9,714.4 L392.9,715.1 L392.8,715.8 L392.8,716.4 L392.7,717.1 L392.7,717.8 L392.6,718.4 L392.6,719.1 L392.5,719.8 L392.4,720.4 L392.3,721.1 L392.2,721.8 L392.1,722.4 L392.0,723.1 L391.9,723.8 L391.8,724.5 L391.7,725.1 L391.6,725.8 L391.5,726.5 L391.3,727.2 L391.2,727.8 L391.1,728.5 L390.9,729.2 L390.8,729.9 L390.6,730.5 L390.5,731.2 L390.3,731.9 L390.1,732.6 L389.9,733.2 L389.8,733.9 L389.6,734.6 L389.4,735.3 L389.2,735.9 L389.0,736.6 L388.8,737.3 L388.6,737.9 L388.4,738.6 L388.2,739.3 L387.9,740.0 L387.7,740.6 L387.5,741.3 L387.2,742.0 L387.0,742.6 L386.7,743.3 L386.5,744.0 L386.2,744.6 L386.0,745.3 L385.7,745.9 L385.4,746.6 L385.2,747.2 L384.9,747.9 L384.6,748.6 L384.3,749.2 L384.0,749.9 L383.7,750.5 L383.4,751.2 L383.1,751.8 L382.8,752.4 L382.5,753.1 L382.2,753.7 L381.9,754.4 L381.5,755.0 L381.2,755.6 L380.9,756.3 L380.5,756.9 L380.2,757.5 L379.8,758.2 L379.5,758.8 L379.1,759.4 L378.7,760.0 L378.4,760.6 L378.0,761.3 L377.6,761.9 L377.3,762.5 L376.9,763.1 L376.5,763.7 L376.1,764.3 L375.7,764.9 L375.3,765.5 L374.9,766.1 L374.5,766.7 L374.1,767.3 L373.7,767.9 L373.3,768.4 L372.9,769.0 L372.4,769.6 L372.0,770.2 L371.6,770.7 L371.1,771.3 L370.7,771.9 L370.3,772.4 L369.8,773.0 L369.4,773.5 L368.9,774.1 L368.5,774.6 L368.0,775.2 L367.6,775.7 L367.1,776.3 L366.6,776.8 L366.2,777.3 L365.7,777.8 L365.2,778.4 L364.7,778.9 L364.2,779.4 L363.8,779.9 L363.3,780.4 L362.8,780.9 L362.3,781.4 L361.8,781.9 L361.3,782.4 L360.8,782.9 L360.3,783.4 L359.8,783.8 L359.3,784.3 L358.8,784.8 L358.2,785.3 L357.7,785.7 L357.2,786.2 L356.7,786.6 L356.1,787.1 L355.6,787.5 L355.1,788.0 L354.6,788.4 L354.0,788.8 L353.5,789.2 L353.0,789.7 L352.4,790.1 L351.9,790.5 L351.3,790.9 L350.8,791.3 L350.2,791.7 L349.7,792.1 L349.1,792.5 L348.6,792.9 L348.0,793.3 L347.5,793.6 L346.9,794.0 L346.3,794.4 L345.8,794.7 L345.2,795.1 L344.6,795.4 L344.1,795.8 L343.5,796.1 L342.9,796.4 L342.4,796.8 L341.8,797.1 L341.2,797.4 L340.6,797.7 L340.1,798.0 L339.5,798.3 L338.9,798.6 L338.3,798.9 L337.7,799.2 L337.2,799.5 L336.6,799.8 L336.0,800.0 L335.4,800.3 L334.8,800.6 L334.2,800.8 L333.7,801.1 L333.1,801.3 L332.5,801.5 L331.9,801.8 L331.3,802.0 L330.7,802.2 L330.1,802.4 L329.5,802.6 L329.0,802.8 L328.4,803.0 L327.8,803.2 L327.2,803.4 L326.6,803.6 L326.0,803.8 L325.4,804.0 L324.8,804.1 L324.2,804.3 L323.6,804.4 L323.0,804.6 L322.5,804.7 L321.9,804.9 L321.3,805.0 L320.7,805.1 L320.1,805.2 L319.5,805.3 L318.9,805.5 L318.3,805.6 L317.7,805.6 L317.1,805.7 L316.6,805.8 L316.0,805.9 L315.4,806.0 L314.8,806.0 L314.2,806.1 L313.6,806.1 L313.1,806.2 L312.5,806.2 L311.9,806.3 L311.3,806.3 L310.7,806.3 L310.2,806.4 L309.6,806.4 L309.0,806.4 L308.4,806.4 L307.9,806.4 L307.3,806.4 L306.7,806.3 L306.2,806.3 L305.6,806.3 L305.0,806.3 L304.5,806.2 L303.9,806.2 L303.3,806.1 L302.8,806.1 L302.2,806.0 L301.7,805.9 L301.1,805.9 L300.6,805.8 L300.0,805.7 L299.5,805.6 L298.9,805.5 L298.4,805.4 L297.8,805.3 L297.3,805.2 L296.8,805.0 L296.2,804.9 L295.7,804.8 L295.2,804.6 L294.6,804.5 L294.1,804.3 L293.6,804.2 L293.1,804.0 L292.5,803.9 L292.0,803.7 L291.5,803.5 L291.0,803.3 L290.5,803.1 L290.0,802.9 L289.5,802.7 L289.0,802.5 L288.5,802.3 L288.0,802.1 L287.5,801.9 L287.0,801.6 L286.5,801.4 L286.0,801.2 L285.6,800.9 L285.1,800.7 L284.6,800.4 L284.1,800.1 L283.7,799.9 L283.2,799.6 L282.7,799.3 L282.3,799.0 L281.8,798.8 L281.4,798.5 L280.9,798.2 L280.5,797.9 L280.0,797.5 L279.6,797.2 L279.2,796.9 L278.7,796.6 L278.3,796.2 L277.9,795.9 L277.5,795.6 L277.1,795.2 L276.6,794.9 L276.2,794.5 L275.8,794.2 L275.4,793.8 L275.0,793.4 L274.6,793.0 L274.2,792.7 L273.9,792.3 L273.5,791.9 L273.1,791.5 L272.7,791.1 L272.3,790.7 L272.0,790.3 L271.6,789.9 L271.3,789.4 L270.9,789.0 L270.6,788.6 L270.2,788.1 L269.9,787.7 L269.5,787.3 L269.2,786.8 L268.9,786.4 L268.5,785.9 L268.2,785.5 L267.9,785.0 L267.6,784.5 L267.3,784.1 L267.0,783.6 L266.7,783.1 L266.4,782.6 L266.1,782.1 L265.8,781.6 L265.5,781.1 L265.3,780.6 L265.0,780.1 L264.7,779.6 L264.5,779.1 L264.2,778.6 L263.9,778.1 L263.7,777.5 L263.5,777.0 L263.2,776.5 L263.0,776.0 L262.8,775.4 L262.5,774.9 L262.3,774.3 L262.1,773.8 L261.9,773.2 L261.7,772.7 L261.5,772.1 L261.3,771.5 L261.1,771.0 L260.9,770.4 L260.7,769.8 L260.5,769.3 L260.4,768.7 L260.2,768.1 L260.0,767.5 L259.9,766.9 L259.7,766.3 L259.6,765.8 L259.5,765.2 L259.3,764.6" />
<path class="f" d="M332.9,652.4 L333.5,652.3 L334.0,652.2 L334.6,652.1 L335.2,652.0 L335.8,652.0 L336.4,651.9 L337.0,651.9 L337.5,651.8 L338.1,651.8 L338.7,651.7 L339.3,651.7 L339.9,651.7 L340.4,651.6 L341.0,651.6 L341.6,651.6 L342.2,651.6 L342.7,651.6 L343.3,651.6 L343.9,651.7 L344.4,651.7 L345.0,651.7 L345.6,651.7 L346.1,651.8 L346.7,651.8 L347.3,651.9 L347.8,651.9 L348.4,652.0 L348.9,652.1 L349.5,652.1 L350.0,652.2 L350.6,652.3 L351.1,652.4 L351.7,652.5 L352.2,652.6 L352.8,652.7 L353.3,652.8 L353.8,653.0 L354.4,653.1 L354.9,653.2 L355.4,653.4 L356.0,653.5 L356.5,653.7 L357.0,653.8 L357.5,654.0 L358.1,654.1 L358.6,654.3 L359.1,654.5 L359.6,654.7 L360.1,654.9 L360.6,655.1 L361.1,655.3 L361.6,655.5 L362.1,655.7 L362.6,655.9 L363.1,656.1 L363.6,656.4 L364.1,656.6 L364.6,656.8 L365.0,657.1 L365.5,657.3 L366.0,657.6 L366.5,657.9 L366.9,658.1 L367.4,658.4" />
<ellipse cx="342.2" cy="740.1" rx="31" ry="26.5" transform="rotate(-59 342.2 740.1)" style="stroke:#777;stroke-width:0.6;fill:none"/>
<path class="f" d="M367.4,658.4 Q375.1,651.9 386.4,655.5" />
<path class="f" d="M368.8,659.3 Q376.7,652.9 388.3,656.5" />
<path class="f" d="M371.6,661.2 Q380.2,655.3 392.2,658.7" />
<path class="f" d="M372.9,662.3 Q381.7,656.6 393.9,659.8" />
<path class="f" d="M375.6,664.6 Q384.9,659.4 397.5,662.3" />
<path class="f" d="M376.7,665.7 Q386.3,660.7 399.2,663.6" />
<path class="f" d="M379.1,668.3 Q389.2,663.8 402.5,666.6" />
<path class="f" d="M380.2,669.6 Q390.5,665.4 404.1,668.0" />
<path class="f" d="M382.3,672.5 Q393.1,668.8 407.1,671.3" />
<path class="f" d="M383.3,673.9 Q394.3,670.5 408.5,672.9" />
<path class="f" d="M385.2,677.1 Q396.6,674.1 411.3,676.4" />
<path class="f" d="M386.0,678.6 Q397.6,675.9 412.5,678.2" />
<path class="f" d="M387.6,682.0 Q399.5,679.9 415.0,682.0" />
<path class="f" d="M388.3,683.6 Q400.4,681.8 416.1,683.9" />
<path class="f" d="M389.6,687.2 Q402.0,686.0 418.2,688.0" />
<path class="f" d="M390.1,688.9 Q402.7,688.0 419.1,690.0" />
<path class="f" d="M391.1,692.7 Q404.0,692.4 421.1,695.2" />
<path class="f" d="M391.5,694.5 Q404.5,694.5 422.0,697.7" />
<path class="f" d="M392.2,698.5 Q405.4,699.0 423.6,703.2" />
<path class="f" d="M392.5,700.4 Q405.8,701.2 424.2,705.9" />
<path class="f" d="M392.9,704.5 Q406.3,705.9 425.2,711.7" />
<path class="f" d="M393.0,706.4 Q406.5,708.1 425.5,714.4" />
<path class="f" d="M393.0,710.6 Q406.7,712.9 426.0,719.7" />
<path class="f" d="M393.0,712.6 Q406.7,715.1 426.0,722.1" />
<path class="f" d="M392.8,716.9 Q406.5,720.0 426.0,727.1" />
<path class="f" d="M392.6,718.9 Q406.3,722.3 426.0,729.5" />
<path class="f" d="M392.0,723.2 Q405.8,727.2 425.6,734.6" />
<path class="f" d="M391.7,725.3 Q405.4,729.5 425.3,737.0" />
<path class="f" d="M390.8,729.6 Q404.5,734.4 424.5,742.1" />
<path class="f" d="M390.3,731.7 Q404.0,736.8 424.1,744.5" />
<path class="f" d="M389.2,736.0 Q402.7,741.6 422.9,749.6" />
<path class="f" d="M388.6,738.0 Q402.1,743.9 422.3,751.9" />
<path class="f" d="M387.1,742.3 Q400.4,748.8 420.8,757.0" />
<path class="f" d="M386.3,744.4 Q399.6,751.0 420.0,759.3" />
<path class="f" d="M384.6,748.6 Q397.6,755.7 418.1,764.3" />
<path class="f" d="M383.7,750.6 Q396.6,757.9 417.1,766.6" />
<path class="f" d="M381.7,754.7 Q394.3,762.6 414.8,771.5" />
<path class="f" d="M380.7,756.6 Q393.2,764.7 413.5,774.1" />
<path class="f" d="M378.4,760.6 Q390.6,769.2 410.5,779.5" />
<path class="f" d="M377.3,762.5 Q389.3,771.2 408.9,782.0" />
<path class="f" d="M374.7,766.4 Q386.4,775.5 405.5,787.2" />
<path class="f" d="M373.5,768.1 Q385.0,777.4 403.8,789.5" />
<path class="f" d="M370.7,771.8 Q381.8,781.5 399.9,794.4" />
<path class="f" d="M369.4,773.5 Q380.2,783.3 398.0,796.6" />
<path class="f" d="M366.4,777.0 Q376.8,787.2 393.8,801.1" />
<path class="f" d="M365.0,778.6 Q375.2,788.9 391.8,803.1" />
<path class="f" d="M361.8,781.9 Q371.5,792.4 387.2,807.2" />
<path class="f" d="M360.3,783.3 Q369.8,794.0 385.0,809.0" />
<path class="f" d="M357.0,786.3 Q365.9,797.3 380.2,812.7" />
<path class="f" d="M355.4,787.7 Q364.1,798.7 377.9,814.3" />
<path class="f" d="M352.0,790.4 Q360.0,801.7 372.9,817.6" />
<path class="f" d="M350.3,791.7 Q358.1,803.0 370.5,819.0" />
<path class="f" d="M346.7,794.1 Q353.9,805.6 365.3,821.7" />
<path class="f" d="M345.0,795.2 Q351.9,806.7 362.8,822.8" />
<path class="f" d="M341.3,797.3 Q347.6,808.9 357.4,825.0" />
<path class="f" d="M339.6,798.3 Q345.6,809.9 354.9,825.9" />
<path class="f" d="M335.8,800.1 Q341.2,811.8 349.4,827.6" />
<path class="f" d="M334.1,800.9 Q339.1,812.6 346.9,828.2" />
<path class="f" d="M330.3,802.4 Q334.7,814.1 341.4,829.3" />
<path class="f" d="M328.5,803.0 Q332.6,814.7 338.8,829.7" />
<path class="f" d="M324.7,804.2 Q328.1,815.8 334.4,830.2" />
<path class="f" d="M322.9,804.6 Q326.0,816.2 332.6,830.3" />
<path class="f" d="M319.1,805.4 Q321.5,816.9 328.8,830.4" />
<path class="f" d="M317.3,805.7 Q319.4,817.1 327.0,830.4" />
<path class="f" d="M313.5,806.2 Q315.0,817.4 323.2,830.2" />
<path class="f" d="M311.8,806.3 Q312.9,817.5 321.4,830.1" />
<path class="f" d="M308.1,806.4 Q308.5,817.4 317.6,829.6" />
<path class="f" d="M306.4,806.3 Q306.5,817.2 315.9,829.3" />
<path class="f" d="M302.7,806.1 Q302.2,816.7 312.3,828.6" />
<path class="f" d="M301.0,805.8 Q300.2,816.4 310.6,828.1" />
<path class="f" d="M297.5,805.2 Q296.0,815.5 307.0,827.1" />
<path class="f" d="M295.9,804.8 Q294.1,814.9 305.4,826.6" />
<path class="f" d="M292.5,803.9 Q290.1,813.6 301.9,825.2" />
<path class="f" d="M291.0,803.3 Q288.2,812.9 300.3,824.6" />
<path class="f" d="M287.7,802.0 Q284.4,811.2 297.0,823.0" />
<path class="f" d="M286.3,801.3 Q282.6,810.3 295.5,822.2" />
<path class="f" d="M283.2,799.6 Q278.9,808.3 292.3,820.3" />
<path class="f" d="M281.8,798.7 Q277.3,807.2 290.6,819.2" />
<path class="f" d="M279.0,796.8 Q273.9,804.8 287.0,816.6" />
<path class="f" d="M277.7,795.7 Q272.3,803.5 285.3,815.3" />
<path class="f" d="M275.0,793.4 Q271.0,801.2 282.0,812.4" />
<path class="f" d="M273.9,792.3 Q270.5,800.0 280.5,810.9" />
<path class="f" d="M271.5,789.7 Q269.6,797.5 277.4,807.7" />
<path class="f" d="M270.4,788.4 Q269.3,796.2 276.0,806.0" />
<path class="f" d="M268.3,785.5 Q268.8,793.5 273.3,802.5" />
<path class="f" d="M267.3,784.1 Q267.7,791.9 272.1,800.7" />
<path class="f" d="M265.4,780.9 Q266.5,788.6 269.6,796.8" />
<path class="f" d="M264.6,779.4 Q266.6,787.2 268.6,795.0" />
<path class="f" d="M263.0,776.0 Q264.7,783.4 266.5,790.8" />
<path class="f" d="M262.3,774.4 Q263.9,781.6 265.6,788.8" />
<path class="f" d="M342.5,651.6 Q348.3,650.2 354.1,648.8" />
<path class="f" d="M344.2,651.7 Q350.3,650.2 356.3,648.8" />
<path class="f" d="M347.9,651.9 Q354.4,650.4 360.9,648.9" />
<path class="f" d="M349.6,652.2 Q356.1,649.9 363.1,649.1" />
<path class="f" d="M353.1,652.8 Q359.9,649.9 367.6,649.7" />
<path class="f" d="M354.7,653.2 Q361.5,649.7 369.7,650.0" />
<path class="f" d="M358.1,654.1 Q365.0,649.5 374.1,651.0" />
<path class="f" d="M359.6,654.7 Q366.4,649.0 376.1,651.6" />
<path class="f" d="M362.9,656.0 Q369.7,648.9 380.4,653.0" />
<path class="f" d="M364.3,656.7 Q371.4,649.8 382.4,653.7" />
<path d="M395.1,110 L395.1,222.9" stroke="#fff" stroke-width="9" fill="none"/>
<path d="M395.1,110 L395.1,222.9" stroke="#7a7a7a" stroke-width="2.7" fill="none"/>
<path d="M701,243.8 L811,243.8 L811,430.1 L696.4,430.1" stroke="#fff" stroke-width="9" fill="none"/>
<path d="M701,243.8 L811,243.8 L811,430.1 L696.4,430.1 M811,336.7 L826.8,336.7" stroke="#7a7a7a" stroke-width="2.7" fill="none"/>
<text x="237" y="27" textLength="346" lengthAdjust="spacingAndGlyphs">Μετακινήστε τον διακόπτη</text>
<text x="238" y="62" textLength="315" lengthAdjust="spacingAndGlyphs">προς τα αριστερά για να</text>
<text x="238" y="97" textLength="338" lengthAdjust="spacingAndGlyphs">ξεκλειδώσετε το κάλυμμα.</text>
<text x="832" y="345.8" textLength="145.5" lengthAdjust="spacingAndGlyphs">Καλύμματα</text>
<text x="832" y="380.5" textLength="171" lengthAdjust="spacingAndGlyphs">μονάδας SSD</text>
</svg>
</body></html>
